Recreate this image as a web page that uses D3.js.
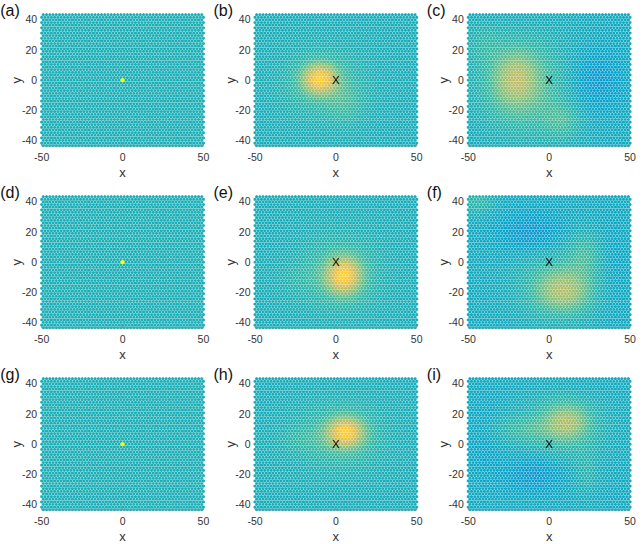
<!DOCTYPE html>
<html>
<head>
<meta charset="utf-8">
<script src="https://cdn.jsdelivr.net/npm/d3@7"></script>
<style>
  body { margin: 0; background: #fff; }
  text { font-family: "Liberation Sans", Arial, sans-serif; }
</style>
</head>
<body>
<div id="chart"></div>
<script>
// ---- data ----
const panelLabels = ['(a)', '(b)', '(c)', '(d)', '(e)', '(f)', '(g)', '(h)', '(i)'];
const xTicks = [-50, 0, 50];
const yTicks = [-40, -20, 0, 20, 40];

// colour level (0..1 on the parula scale) of the flat background
const baseLevels = [0.44, 0.43, 0.41, 0.44, 0.43, 0.41, 0.44, 0.43, 0.41];
// level of the single cell at the origin (first column only)
const originPeak = [1, null, null, 1, null, null, 1, null, null];
// black X marker at the origin
const showCross = [false, true, true, false, true, true, false, true, true];

// blobs per panel: [cx, cy, sx, sy, amplitude]
const blobsA = [];
const blobsB = [[-10, 1, 7, 6.5, 0.37], [-8, -2, 16, 14, 0.1], [6, -16, 8, 9, 0.06]];
const blobsC = [[-21, 1, 9, 12, 0.18], [-15, -4, 20, 22, 0.14], [8, -27, 8, 8, 0.09],
                [28, 0, 12, 14, -0.08], [-40, 25, 8, 10, 0.05]];
const blobsD = [];
const blobsE = [[5, -9, 7, 8, 0.37], [3, -7, 16, 16, 0.1], [-20, -10, 12, 8, 0.03]];
const blobsF = [[9, -19, 11, 9, 0.19], [6, -15, 18, 16, 0.1], [22, 6, 7, 10, 0.09],
                [-12, 20, 14, 9, -0.08], [-44, 40, 7, 6, 0.08], [40, -5, 8, 25, -0.03]];
const blobsG = [];
const blobsH = [[6, 8, 7.5, 6.5, 0.37], [3, 5, 17, 14, 0.1], [-22, 4, 10, 6, 0.04]];
const blobsI = [[11, 15, 9, 8, 0.17], [8, 12, 17, 13, 0.11], [-18, 10, 14, 6, 0.07],
                [-10, -20, 12, 8, -0.08], [23, -18, 5, 10, 0.06], [-40, 0, 8, 20, -0.03]];
const panelBlobs = [blobsA, blobsB, blobsC, blobsD, blobsE, blobsF, blobsG, blobsH, blobsI];

// parula colour map stops
const parulaStops = ['#352a87', '#0f5cdd', '#1481d6', '#06a4ca', '#2eb7a4',
                     '#87bf77', '#d1bb59', '#fec832', '#f9fb0e'];

// ---- layout ----
const W = 644, H = 544;
const colLeft = [41.7, 255, 468.3];
const rowTop = [14.7, 196.7, 378.7];
const plotW = 161.7, plotH = 131;
const yMax = 43.3;

const parula = d3.scaleLinear()
  .domain(parulaStops.map((d, i) => i / (parulaStops.length - 1)))
  .range(parulaStops)
  .interpolate(d3.interpolateRgb)
  .clamp(true);

// hexagonal lattice (pointy top), spacing 2
const step = 2, rowStep = Math.sqrt(3);
const cells = [];
for (let j = 0; j <= 50; j++) {
  const y = -yMax + j * rowStep;
  const shift = (j % 2 === 0) ? 1 : 0;
  for (let x = -50 + shift; x <= 50.001; x += step) cells.push({x: x, y: y});
}

function level(p, c) {
  if (originPeak[p] !== null && Math.abs(c.x) < 0.5 && Math.abs(c.y) < 0.5) return originPeak[p];
  let v = baseLevels[p];
  panelBlobs[p].forEach(b => {
    const dx = (c.x - b[0]) / b[2], dy = (c.y - b[1]) / b[3];
    v += b[4] * Math.exp(-0.5 * (dx * dx + dy * dy));
  });
  return v;
}

const svg = d3.select('#chart').append('svg')
  .attr('width', W)
  .attr('height', H);

panelLabels.forEach((lab, p) => {
  const col = p % 3, row = Math.floor(p / 3);
  const x0 = colLeft[col], y0 = rowTop[row];

  const x = d3.scaleLinear().domain([-50, 50]).range([x0, x0 + plotW]);
  const y = d3.scaleLinear().domain([-yMax, yMax]).range([y0 + plotH, y0]);

  const g = svg.append('g').attr('class', 'panel');

  // hexagon shape in pixels, slightly shrunk so thin light gaps show
  const kx = (x(1) - x(0)), ky = (y(0) - y(1));
  const R = step / Math.sqrt(3) * 0.93;
  const hex = d3.range(6).map(k => {
    const a = Math.PI / 6 + k * Math.PI / 3;
    return [R * Math.cos(a) * kx, R * Math.sin(a) * ky];
  });
  const hexPath = 'M' + hex.map(d => d[0].toFixed(2) + ',' + d[1].toFixed(2)).join('L') + 'Z';

  g.append('g').selectAll('path')
    .data(cells)
    .join('path')
    .attr('d', hexPath)
    .attr('transform', d => `translate(${x(d.x).toFixed(2)},${y(d.y).toFixed(2)})`)
    .attr('fill', d => parula(level(p, d)));

  // the single peak cell is drawn as a bigger marker on top
  if (originPeak[p] !== null) {
    g.append('circle')
      .attr('cx', x(0)).attr('cy', y(0))
      .attr('r', 2.1)
      .attr('fill', parula(originPeak[p]));
  }

  // bottom axis line with ticks
  const axis = g.append('g').attr('transform', `translate(0,${y0 + plotH})`);
  axis.append('line')
    .attr('x1', x0).attr('x2', x0 + plotW)
    .attr('stroke', '#8c8c8c').attr('stroke-width', 1);
  axis.selectAll('line.tick')
    .data(xTicks)
    .join('line')
    .attr('class', 'tick')
    .attr('x1', d => x(d)).attr('x2', d => x(d))
    .attr('y1', 0).attr('y2', -2)
    .attr('stroke', '#8c8c8c');

  axis.selectAll('text.xt')
    .data(xTicks)
    .join('text')
    .attr('class', 'xt')
    .attr('x', d => x(d))
    .attr('y', 15)
    .attr('text-anchor', 'middle')
    .attr('font-size', 10.5)
    .attr('fill', '#333')
    .text(d => d);

  g.selectAll('text.yt')
    .data(yTicks)
    .join('text')
    .attr('class', 'yt')
    .attr('x', x0 - 4.5)
    .attr('y', d => y(d))
    .attr('dy', '0.35em')
    .attr('text-anchor', 'end')
    .attr('font-size', 10.5)
    .attr('fill', '#333')
    .text(d => d);

  // axis titles
  g.append('text')
    .attr('x', x(0))
    .attr('y', y0 + plotH + 31)
    .attr('text-anchor', 'middle')
    .attr('font-size', 13)
    .attr('fill', '#333')
    .text('x');

  g.append('text')
    .attr('transform', `translate(${x0 - 25},${y(0)}) rotate(-90)`)
    .attr('text-anchor', 'middle')
    .attr('dy', '0.35em')
    .attr('font-size', 13)
    .attr('fill', '#333')
    .text('y');

  // panel label
  g.append('text')
    .attr('x', x0 - 41.5)
    .attr('y', y0 + 1)
    .attr('font-size', 16)
    .attr('fill', '#111')
    .text(lab);

  if (showCross[p]) {
    g.append('text')
      .attr('x', x(0))
      .attr('y', y(0))
      .attr('dy', '0.36em')
      .attr('text-anchor', 'middle')
      .attr('font-size', 11.5)
      .attr('fill', '#000')
      .text('X');
  }
});
</script>
</body>
</html>
